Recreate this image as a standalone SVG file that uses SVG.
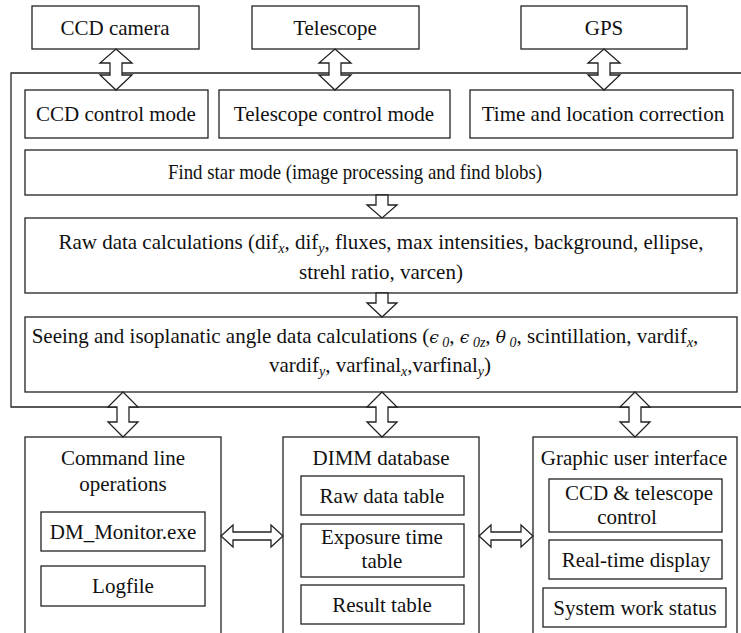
<svg xmlns="http://www.w3.org/2000/svg" width="741" height="633" viewBox="0 0 741 633">
<style>
.bg{fill:#fff}
.box{fill:#fff;stroke:#222;stroke-width:1.3}
.ln{fill:none;stroke:#222;stroke-width:1.3}
.arr{fill:#fff;stroke:#222;stroke-width:1.3;stroke-linejoin:miter}
.t{font-family:'Liberation Serif','Times New Roman',serif;font-size:21px;fill:#111;text-anchor:middle}
.s{font-size:14px;font-style:italic}
.g{font-family:'DejaVu Serif','Liberation Serif',serif;font-size:17px;font-style:italic}
</style>
<rect class="bg" x="0" y="0" width="741" height="633"/>

<g id="outer-frame">
<path class="ln" d="M741,73 H11 V407 H741"/>
</g>

<g id="ccd-camera"><rect class="box" x="32" y="6" width="167" height="43"/><text class="t" x="115" y="35">CCD camera</text></g>
<g id="telescope"><rect class="box" x="252" y="6" width="167" height="43"/><text class="t" x="335" y="35">Telescope</text></g>
<g id="gps"><rect class="box" x="521" y="6" width="166" height="43"/><text class="t" x="604" y="35">GPS</text></g>

<g id="ccd-control"><rect class="box" x="25" y="90" width="183" height="48"/><text class="t" x="116" y="121">CCD control mode</text></g>
<g id="telescope-control"><rect class="box" x="219" y="90" width="231" height="48"/><text class="t" x="334" y="121">Telescope control mode</text></g>
<g id="time-location"><rect class="box" x="470" y="90" width="263" height="48"/><text class="t" x="603" y="121">Time and location correction</text></g>

<g id="find-star"><rect class="box" x="25" y="150" width="712" height="45"/><text class="t" x="355" y="179" font-size="20" textLength="374" lengthAdjust="spacingAndGlyphs">Find star mode (image processing and find blobs)</text></g>

<g id="raw-data"><rect class="box" x="25" y="218" width="712" height="75"/>
<text class="t" x="381" y="249">Raw data calculations (dif<tspan class="s" dy="4">x</tspan><tspan dy="-4">, dif</tspan><tspan class="s" dy="4">y</tspan><tspan dy="-4">, fluxes, max intensities, background, ellipse,</tspan></text>
<text class="t" x="381" y="279">strehl ratio, varcen)</text></g>

<g id="seeing"><rect class="box" x="25" y="317" width="712" height="75"/>
<text class="t" x="365" y="343">Seeing and isoplanatic angle data calculations (<tspan class="g">ϵ</tspan><tspan class="s" dy="4" font-style="normal"> 0</tspan><tspan dy="-4">, </tspan><tspan class="g">ϵ</tspan><tspan class="s" dy="4" font-style="normal"> 0</tspan><tspan class="s">z</tspan><tspan dy="-4">, </tspan><tspan class="g">θ</tspan><tspan class="s" dy="4" font-style="normal"> 0</tspan><tspan dy="-4">, scintillation, vardif</tspan><tspan class="s" dy="4">x</tspan><tspan dy="-4">,</tspan></text>
<text class="t" x="380" y="372">vardif<tspan class="s" dy="4">y</tspan><tspan dy="-4">, varfinal</tspan><tspan class="s" dy="4">x</tspan><tspan dy="-4">,varfinal</tspan><tspan class="s" dy="4">y</tspan><tspan dy="-4">)</tspan></text></g>

<g id="command-line"><rect class="box" x="25" y="437" width="196" height="210"/>
<text class="t" x="123" y="465">Command line</text><text class="t" x="123" y="491">operations</text></g>
<g id="dm-monitor"><rect class="box" x="41" y="512" width="164" height="39"/><text class="t" x="123" y="539">DM_Monitor.exe</text></g>
<g id="logfile"><rect class="box" x="41" y="566" width="164" height="40"/><text class="t" x="123" y="593">Logfile</text></g>

<g id="dimm-database"><rect class="box" x="283" y="437" width="196" height="210"/><text class="t" x="381" y="465">DIMM database</text></g>
<g id="raw-data-table"><rect class="box" x="301" y="476" width="163" height="39"/><text class="t" x="382" y="503">Raw data table</text></g>
<g id="exposure-time-table"><rect class="box" x="301" y="524" width="163" height="53"/><text class="t" x="382" y="544">Exposure time</text><text class="t" x="382" y="568">table</text></g>
<g id="result-table"><rect class="box" x="301" y="585" width="163" height="39"/><text class="t" x="382" y="612">Result table</text></g>

<g id="gui"><rect class="box" x="533" y="437" width="204" height="210"/><text class="t" x="634" y="465">Graphic user interface</text></g>
<g id="ccd-telescope-control"><rect class="box" x="549" y="479" width="173" height="53"/><text class="t" x="639" y="500">CCD &amp; telescope</text><text class="t" x="627" y="524">control</text></g>
<g id="real-time-display"><rect class="box" x="549" y="540" width="173" height="39"/><text class="t" x="636" y="567">Real-time display</text></g>
<g id="system-work-status"><rect class="box" x="543" y="588" width="183" height="39"/><text class="t" x="635" y="615">System work status</text></g>

<g id="connectors">
<path class="arr" d="M116,49 L132,63 L122,63 L122,75 L132,75 L116,90 L100,75 L110,75 L110,63 L100,63 Z"/>
<path class="arr" d="M335,49 L351,63 L341,63 L341,75 L351,75 L335,90 L319,75 L329,75 L329,63 L319,63 Z"/>
<path class="arr" d="M604,49 L620,63 L610,63 L610,75 L620,75 L604,90 L588,75 L598,75 L598,63 L588,63 Z"/>
<path class="arr" d="M376,195 L388,195 L388,205 L397,205 L382,218 L367,205 L376,205 Z"/>
<path class="arr" d="M376,293 L388,293 L388,303 L397,303 L382,317 L367,303 L376,303 Z"/>
<path class="arr" d="M123,392 L138,407 L129,407 L129,422 L138,422 L123,437 L108,422 L117,422 L117,407 L108,407 Z"/>
<path class="arr" d="M382,392 L397,407 L388,407 L388,422 L397,422 L382,437 L367,422 L376,422 L376,407 L367,407 Z"/>
<path class="arr" d="M635,392 L650,407 L641,407 L641,422 L650,422 L635,437 L620,422 L629,422 L629,407 L620,407 Z"/>
<path class="arr" d="M221,536 L233,525 L233,532 L271,532 L271,525 L283,536 L271,547 L271,540 L233,540 L233,547 Z"/>
<path class="arr" d="M479,536 L491,525 L491,532 L521,532 L521,525 L533,536 L521,547 L521,540 L491,540 L491,547 Z"/>
</g>
</svg>
